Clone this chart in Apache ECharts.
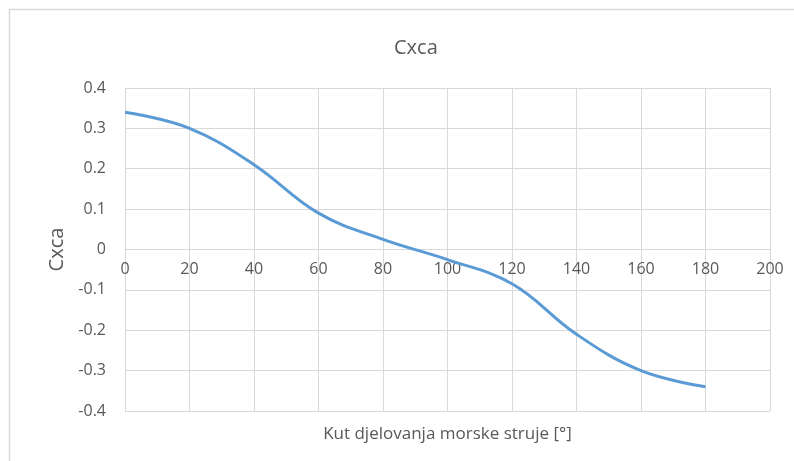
<!DOCTYPE html>
<html>
<head>
<meta charset="utf-8">
<script src="https://cdn.jsdelivr.net/npm/echarts@6/dist/echarts.min.js"></script>
<style>
  html, body { margin: 0; padding: 0; background: #fff; }
  #chart { width: 794px; height: 461px; }
</style>
</head>
<body>
<div id="chart"></div>
<script>
// Angle of the sea current [°] and the drag coefficient Cxca
const angles = [0, 20, 40, 60, 80, 100, 120, 140, 160, 180];
const cxca = [0.34, 0.30, 0.21, 0.09, 0.025, -0.025, -0.085, -0.21, -0.30, -0.34];

const titleText = 'Cxca';
const xAxisName = 'Kut djelovanja morske struje [°]';
const yAxisName = 'Cxca';

const fontFamily = '"Open Sans", Lato, sans-serif';
const textColor = '#595959';
const gridColor = '#d9d9d9';

const gridLeft = 125, gridRight = 24;
const chartWidth = 794;

const chart = echarts.init(document.getElementById('chart'), null, { renderer: 'canvas' });

chart.setOption({
  animation: false,
  backgroundColor: '#fff',
  graphic: [{
    type: 'rect',
    shape: { x: 9.5, y: 9.5, width: 800, height: 470 },
    style: { fill: 'none', stroke: '#d9d9d9', lineWidth: 1.5 },
    silent: true
  }, {
    // x-axis title sits under the plot frame, centred on the plot
    type: 'text',
    x: (gridLeft + chartWidth - gridRight) / 2,
    y: 426,
    style: {
      text: xAxisName,
      align: 'center',
      verticalAlign: 'top',
      fontFamily, fontSize: 17, fill: textColor
    },
    silent: true
  }],
  title: {
    text: titleText,
    left: 389,
    top: 33,
    textStyle: { fontFamily, fontSize: 20, fontWeight: 'normal', color: textColor }
  },
  grid: { left: gridLeft, right: gridRight, top: 88, bottom: 50 },
  xAxis: {
    type: 'value',
    min: 0,
    max: 200,
    interval: 20,
    axisLine: { onZero: false, lineStyle: { color: gridColor } },
    axisTick: { show: false },
    axisLabel: { fontFamily, fontSize: 16, color: textColor, margin: 12 },
    splitLine: { show: true, lineStyle: { color: gridColor } }
  },
  yAxis: {
    type: 'value',
    min: -0.4,
    max: 0.4,
    interval: 0.1,
    name: yAxisName,
    nameLocation: 'middle',
    nameGap: 56,
    nameTextStyle: { fontFamily, fontSize: 20, color: textColor },
    axisLine: { show: false },
    axisTick: { show: false },
    axisLabel: {
      fontFamily, fontSize: 16, color: textColor, margin: 19,
      formatter: v => String(Math.round(v * 10) / 10)
    },
    splitLine: { show: true, lineStyle: { color: gridColor } }
  },
  series: [{
    type: 'line',
    data: angles.map((a, i) => [a, cxca[i]]),
    smooth: 0.4,
    showSymbol: false,
    lineStyle: { color: '#5b9bd5', width: 3 },
    itemStyle: { color: '#5b9bd5' }
  }]
});

// Lift the x axis (line and labels) onto the y = 0 line
const zeroY = chart.convertToPixel({ yAxisIndex: 0 }, 0);
const bottomY = chart.convertToPixel({ yAxisIndex: 0 }, -0.4);
chart.setOption({ xAxis: { offset: -(bottomY - zeroY) } });
</script>
</body>
</html>
